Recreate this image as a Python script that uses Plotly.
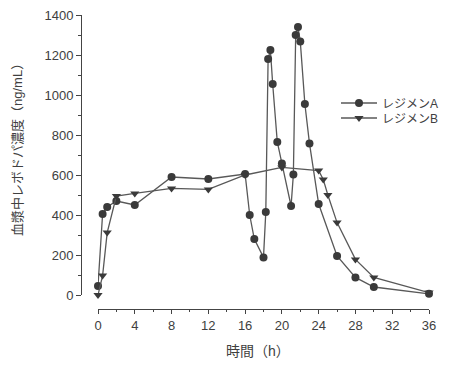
import plotly.graph_objects as go

# Regimen A (circles)
time_a = [0, 0.5, 1, 2, 4, 8, 12, 16, 16.5, 17, 18, 18.25, 18.5, 18.75, 19, 19.5, 20,
          21, 21.25, 21.5, 21.75, 22, 22.5, 23, 24, 26, 28, 30, 36]
conc_a = [45, 405, 440, 470, 450, 590, 580, 605, 400, 280, 188, 415, 1180, 1225, 1055, 765, 658,
          445, 603, 1300, 1340, 1268, 955, 758, 455, 195, 88, 40, 6]

# Regimen B (down triangles)
time_b = [0, 0.5, 1, 2, 4, 8, 12, 16, 20, 24, 24.5, 25, 26, 28, 30, 36]
conc_b = [0, 97, 312, 495, 508, 533, 528, 600, 638, 622, 578, 500, 362, 178, 88, 12]

x_ticks = [0, 4, 8, 12, 16, 20, 24, 28, 32, 36]
y_ticks = [0, 200, 400, 600, 800, 1000, 1200, 1400]

name_a = "レジメンA"
name_b = "レジメンB"
x_title = "時間（h）"
y_title = "血漿中レボドパ濃度（ng/mL）"

W, H = 454, 365
OFF = 8  # page body margin offset


def px(x):
    return (x - OFF) / W


def py(y):
    return 1 - (y - OFF) / H


FONT = "Liberation Sans, Arial, Noto Sans CJK JP, sans-serif"
MARK = "#3a3a3a"
LINE = "#585858"
AXC = "#444444"
TXT = "#404040"

fig = go.Figure()
fig.add_trace(go.Scatter(
    x=time_a, y=conc_a, mode="lines+markers", name=name_a, showlegend=True,
    marker=dict(symbol="circle", size=8, color=MARK),
    line=dict(color=LINE, width=1.3), cliponaxis=False, legend="legend"))
fig.add_trace(go.Scatter(
    x=time_b, y=conc_b, mode="lines+markers", name=name_b, showlegend=True,
    marker=dict(symbol="triangle-down", size=8, color=MARK),
    line=dict(color=LINE, width=1.3), cliponaxis=False, legend="legend2"))

fig.update_layout(
    width=W, height=H, showlegend=True,
    margin=dict(l=0, r=0, t=0, b=0),
    paper_bgcolor="white", plot_bgcolor="white",
    font=dict(family=FONT, size=13, color=TXT),
    xaxis=dict(
        domain=[px(98), px(429)], range=[0, 36], anchor="free", position=py(309),
        tickmode="array", tickvals=x_ticks, showline=True, linecolor=AXC, linewidth=1,
        ticks="outside", ticklen=4, tickcolor=AXC, tickwidth=1,
        minor=dict(dtick=2, tick0=0, ticks="outside", ticklen=2, tickcolor=AXC),
        showgrid=False, zeroline=False, automargin=False, ticklabeloverflow="allow",
        tickfont=dict(family=FONT, size=13, color=TXT)),
    yaxis=dict(
        domain=[py(295), py(15)], range=[0, 1400], anchor="free", position=px(81),
        tickmode="array", tickvals=y_ticks, showline=True, linecolor=AXC, linewidth=1,
        ticks="outside", ticklen=5, tickcolor=AXC, tickwidth=1,
        minor=dict(dtick=100, tick0=0, ticks="outside", ticklen=3, tickcolor=AXC),
        showgrid=False, zeroline=False, automargin=False, ticklabeloverflow="allow",
        tickfont=dict(family=FONT, size=13, color=TXT)),
    legend=dict(x=px(336), y=py(103), xanchor="left", yanchor="middle", itemwidth=36,
                bgcolor="rgba(0,0,0,0)", font=dict(family=FONT, size=12, color=TXT)),
    legend2=dict(x=px(336), y=py(118), xanchor="left", yanchor="middle", itemwidth=36,
                 bgcolor="rgba(0,0,0,0)", font=dict(family=FONT, size=12, color=TXT)),
    annotations=[
        dict(text=x_title, xref="paper", yref="paper", x=px(258), y=py(351),
             xanchor="center", yanchor="middle", showarrow=False,
             font=dict(family=FONT, size=14, color=TXT)),
        dict(text=y_title, xref="paper", yref="paper", x=px(17), y=py(147),
             xanchor="center", yanchor="middle", showarrow=False, textangle=-90,
             font=dict(family=FONT, size=13, color=TXT)),
    ],
)

fig.write_html("out.html")
